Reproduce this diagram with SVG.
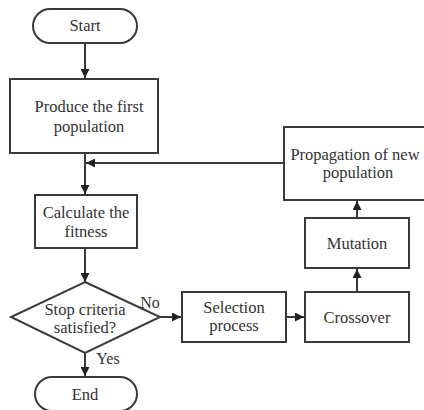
<svg xmlns="http://www.w3.org/2000/svg" width="424" height="410" viewBox="0 0 424 410">
<defs>
<style>
.s{fill:#fff;stroke:#3a3a3a;stroke-width:2}
.c{fill:none;stroke:#3a3a3a;stroke-width:2}
</style>
<marker id="a" viewBox="0 0 10 10" refX="10" refY="5" markerWidth="9" markerHeight="9" markerUnits="userSpaceOnUse" orient="auto"><path d="M0,0L10,5L0,10z" fill="#222"/></marker>
</defs>
<rect width="424" height="410" fill="#fff"/>
<g id="connectors">
<path class="c" d="M85,43V78" marker-end="url(#a)"/>
<path class="c" d="M85,153V194" marker-end="url(#a)"/>
<path class="c" d="M284,163H86" marker-end="url(#a)"/>
<path class="c" d="M85,248V282" marker-end="url(#a)"/>
<path class="c" d="M160,317H181" marker-end="url(#a)"/>
<path class="c" d="M286,317H304" marker-end="url(#a)"/>
<path class="c" d="M357,292V269" marker-end="url(#a)"/>
<path class="c" d="M357,218V201" marker-end="url(#a)"/>
<path class="c" d="M85,353V376" marker-end="url(#a)"/>
<text x="150" y="308" font-family="Liberation Serif" font-size="16" fill="#333" text-anchor="middle">No</text>
<text x="108" y="364" font-family="Liberation Serif" font-size="16" fill="#333" text-anchor="middle">Yes</text>
</g>
<g id="start"><rect class="s" x="33" y="9" width="104" height="34" rx="17"/><text x="85" y="31" font-family="Liberation Serif" font-size="16.5" fill="#333" text-anchor="middle">Start</text></g>
<g id="produce"><rect class="s" x="10" y="79" width="148" height="74"/><text x="89" y="112" font-family="Liberation Serif" font-size="16.5" fill="#333" text-anchor="middle">Produce the first</text><text x="89" y="132" font-family="Liberation Serif" font-size="16.5" fill="#333" text-anchor="middle">population</text></g>
<g id="calculate"><rect class="s" x="35" y="195" width="102" height="53"/><text x="86" y="218" font-family="Liberation Serif" font-size="16.5" fill="#333" text-anchor="middle">Calculate the</text><text x="86" y="237" font-family="Liberation Serif" font-size="16.5" fill="#333" text-anchor="middle">fitness</text></g>
<g id="decision"><path class="s" d="M85,282L160,317L85,353L11,317z"/><text x="85" y="315" font-family="Liberation Serif" font-size="16.5" fill="#333" text-anchor="middle">Stop criteria</text><text x="85" y="333" font-family="Liberation Serif" font-size="16.5" fill="#333" text-anchor="middle">satisfied?</text></g>
<g id="end"><rect class="s" x="35" y="377" width="102" height="34" rx="17"/><text x="85" y="400" font-family="Liberation Serif" font-size="16.5" fill="#333" text-anchor="middle">End</text></g>
<g id="selection"><rect class="s" x="182" y="292" width="104" height="50"/><text x="234" y="313" font-family="Liberation Serif" font-size="16.5" fill="#333" text-anchor="middle">Selection</text><text x="234" y="331" font-family="Liberation Serif" font-size="16.5" fill="#333" text-anchor="middle">process</text></g>
<g id="crossover"><rect class="s" x="305" y="292" width="104" height="50"/><text x="357" y="323" font-family="Liberation Serif" font-size="16.5" fill="#333" text-anchor="middle">Crossover</text></g>
<g id="mutation"><rect class="s" x="305" y="218" width="104" height="50"/><text x="357" y="249" font-family="Liberation Serif" font-size="16.5" fill="#333" text-anchor="middle">Mutation</text></g>
<g id="propagation"><rect class="s" x="284" y="127" width="146" height="73"/><text x="355" y="160" font-family="Liberation Serif" font-size="16.5" fill="#333" text-anchor="middle">Propagation of new</text><text x="358" y="178" font-family="Liberation Serif" font-size="16.5" fill="#333" text-anchor="middle">population</text></g>
</svg>
